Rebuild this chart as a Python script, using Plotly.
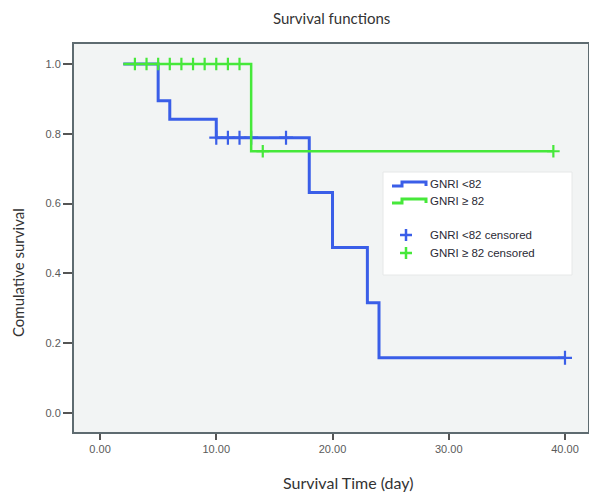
import plotly.graph_objects as go

# ---- data ----
blue_time = [2, 5, 6, 10, 18, 20, 23, 24, 40]
blue_surv = [1.0, 0.895, 0.842, 0.789, 0.632, 0.474, 0.316, 0.158, 0.158]
blue_cens_time = [10, 11, 12, 13, 16, 40]
blue_cens_surv = [0.789, 0.789, 0.789, 0.789, 0.789, 0.158]

green_time = [2, 13, 39]
green_surv = [1.0, 0.75, 0.75]
green_cens_time = [3, 4, 5, 6, 7, 8, 9, 10, 11, 12, 14, 39]
green_cens_surv = [1.0] * 10 + [0.75, 0.75]

x_ticks = [0, 10, 20, 30, 40]
x_tick_labels = ["0.00", "10.00", "20.00", "30.00", "40.00"]
y_ticks = [0.0, 0.2, 0.4, 0.6, 0.8, 1.0]
y_tick_labels = ["0.0", "0.2", "0.4", "0.6", "0.8", "1.0"]

legend_labels = ["GNRI <82", "GNRI \u2265 82", "GNRI <82 censored", "GNRI \u2265 82 censored"]

BLUE = "#3a5ee8"
GREEN = "#46e83a"

W, H = 589, 492
L, R, T, B = 74, 1, 44, 60
PW, PH = W - L - R, H - T - B


def px(x):
    return (x - L) / PW


def py(y):
    return (H - B - y) / PH


fig = go.Figure()

fig.add_trace(go.Scatter(x=blue_time, y=blue_surv, mode="lines", line=dict(color=BLUE, width=3, shape="hv"),
                         showlegend=False, hoverinfo="skip"))
fig.add_trace(go.Scatter(x=blue_cens_time, y=blue_cens_surv, mode="markers",
                         marker=dict(symbol="cross-thin", size=10, line=dict(color=BLUE, width=2.2)),
                         showlegend=False, hoverinfo="skip"))
fig.add_trace(go.Scatter(x=green_time, y=green_surv, mode="lines", line=dict(color=GREEN, width=2.5, shape="hv"),
                         showlegend=False, hoverinfo="skip"))
fig.add_trace(go.Scatter(x=green_cens_time, y=green_cens_surv, mode="markers",
                         marker=dict(symbol="cross-thin", size=9, line=dict(color=GREEN, width=2.2)),
                         showlegend=False, hoverinfo="skip"))

shapes = []
# legend box
shapes.append(dict(type="rect", xref="paper", yref="paper", x0=px(383), x1=px(572), y0=py(275), y1=py(172),
                   fillcolor="white", line=dict(color="#e6e8e8", width=1), layer="above"))


def step_path(x0, x1, x2, ylow, yhigh):
    return (f"M {px(x0)},{py(ylow)} L {px(x1)},{py(ylow)} L {px(x1)},{py(yhigh)} "
            f"L {px(x2)},{py(yhigh)} L {px(x2)},{py(ylow)}")


shapes.append(dict(type="path", xref="paper", yref="paper", path=step_path(392, 402, 426, 186, 182),
                   line=dict(color=BLUE, width=3), layer="above"))
shapes.append(dict(type="path", xref="paper", yref="paper", path=step_path(392, 402, 426, 203, 199),
                   line=dict(color=GREEN, width=3), layer="above"))
for cx, cy, col in [(406, 235, BLUE), (406, 253, GREEN)]:
    shapes.append(dict(type="line", xref="paper", yref="paper", x0=px(cx - 6), x1=px(cx + 6), y0=py(cy), y1=py(cy),
                       line=dict(color=col, width=2.5), layer="above"))
    shapes.append(dict(type="line", xref="paper", yref="paper", x0=px(cx), x1=px(cx), y0=py(cy - 6), y1=py(cy + 6),
                       line=dict(color=col, width=2.5), layer="above"))

annotations = []
for lab, yy in zip(legend_labels, [184, 201, 235, 253]):
    annotations.append(dict(text=lab, xref="paper", yref="paper", x=px(428), y=py(yy), xanchor="left",
                            yanchor="middle", showarrow=False,
                            font=dict(family="Liberation Sans, Arial", size=11.5, color="#2a2a35")))

annotations.append(dict(text="Survival functions", xref="paper", yref="paper", x=px(331), y=py(18),
                        xanchor="center", yanchor="middle", showarrow=False,
                        font=dict(family="Lato", size=15, color="#333333")))
annotations.append(dict(text="Survival Time (day)", xref="paper", yref="paper", x=px(348), y=py(482),
                        xanchor="center", yanchor="middle", showarrow=False,
                        font=dict(family="Lato", size=16, color="#333333")))
annotations.append(dict(text="Comulative survival", xref="paper", yref="paper", x=px(18), y=py(273),
                        xanchor="center", yanchor="middle", showarrow=False, textangle=-90,
                        font=dict(family="Lato", size=15, color="#333333")))

fig.update_layout(
    width=W, height=H,
    margin=dict(l=L, r=R, t=T, b=B, pad=0, autoexpand=False),
    paper_bgcolor="white",
    plot_bgcolor="#f2f4f4",
    showlegend=False,
    hovermode=False,
    shapes=shapes,
    annotations=annotations,
    xaxis=dict(range=[-2.24, 41.98], tickvals=x_ticks, ticktext=x_tick_labels, showgrid=False, zeroline=False,
               automargin=False,
               showline=True, mirror=True, linecolor="#5e6b70", linewidth=2, ticks="outside", ticklen=6,
               tickwidth=1.5, tickcolor="#555", tickfont=dict(family="Liberation Sans, Arial", size=11, color="#5a5a5a")),
    yaxis=dict(range=[-0.0544, 1.0573], tickvals=y_ticks, ticktext=y_tick_labels, showgrid=False, zeroline=False,
               automargin=False,
               showline=True, mirror=True, linecolor="#5e6b70", linewidth=2, ticks="outside", ticklen=9,
               tickwidth=1.5, tickcolor="#555", tickfont=dict(family="Liberation Sans, Arial", size=11, color="#5a5a5a")),
)

fig.write_html("out.html", config={"displayModeBar": False},
               post_script="document.body.style.margin='0';document.body.style.overflow='hidden';")
